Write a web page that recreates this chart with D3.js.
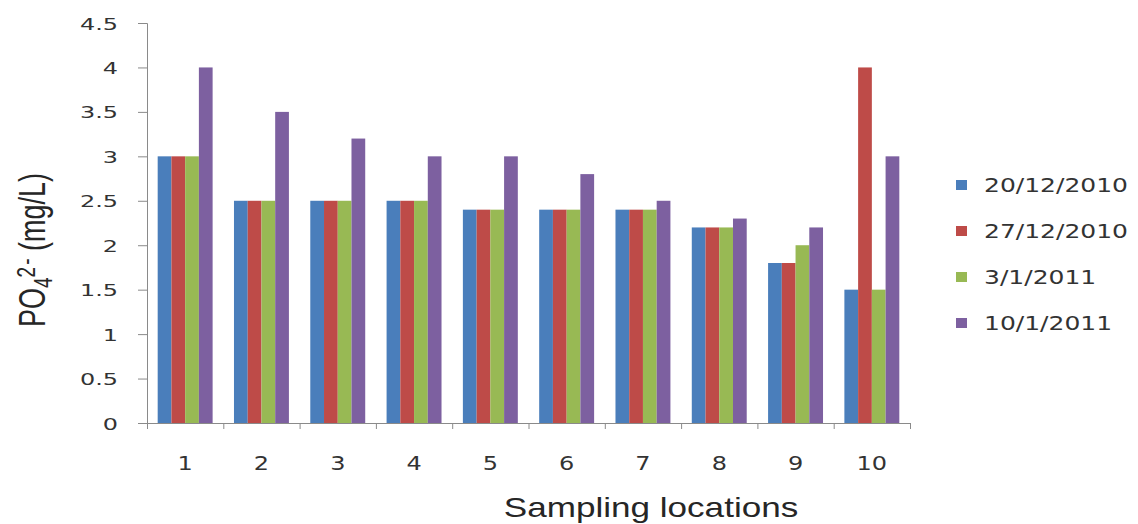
<!DOCTYPE html>
<html>
<head>
<meta charset="utf-8">
<script src="https://cdn.jsdelivr.net/npm/d3@7"></script>
<style>
  html, body { margin: 0; padding: 0; background: #fff; }
  svg { display: block; }
</style>
</head>
<body>
<svg id="chart" width="1138" height="524"></svg>
<script>
const categories = ["1","2","3","4","5","6","7","8","9","10"];
const seriesNames = ["20/12/2010","27/12/2010","3/1/2011","10/1/2011"];
const s20_12_2010 = [3, 2.5, 2.5, 2.5, 2.4, 2.4, 2.4, 2.2, 1.8, 1.5];
const s27_12_2010 = [3, 2.5, 2.5, 2.5, 2.4, 2.4, 2.4, 2.2, 1.8, 4];
const s3_1_2011   = [3, 2.5, 2.5, 2.5, 2.4, 2.4, 2.4, 2.2, 2.0, 1.5];
const s10_1_2011  = [4, 3.5, 3.2, 3, 3, 2.8, 2.5, 2.3, 2.2, 3];
const yTicks = [0, 0.5, 1, 1.5, 2, 2.5, 3, 3.5, 4, 4.5];
const yTickLabels = ["0","0.5","1","1.5","2","2.5","3","3.5","4","4.5"];
const colors = ["#4a7ebb", "#be4b48", "#98b954", "#7d60a0"];

const seriesValues = [s20_12_2010, s27_12_2010, s3_1_2011, s10_1_2011];

const svg = d3.select("#chart");
const mLeft = 147, mRight = 910, mTop = 23, mBottom = 423;

const x0 = d3.scaleBand().domain(categories).range([mLeft, mRight]).paddingInner(0.28).paddingOuter(0.14);
const x1 = d3.scaleBand().domain(seriesNames).range([0, x0.bandwidth()]);
const y = d3.scaleLinear().domain([0, 4.5]).range([mBottom, mTop]);

const axisColor = "#8a8a8a";
const tickFont = "DejaVu Sans, Verdana, sans-serif";
const textColor = "#333333";

// bars
const groups = svg.append("g").selectAll("g")
  .data(categories).join("g")
  .attr("transform", d => `translate(${x0(d)},0)`);
groups.selectAll("rect")
  .data((c, i) => seriesNames.map((s, k) => ({ s, k, v: seriesValues[k][i] })))
  .join("rect")
  .attr("x", d => x1(d.s))
  .attr("width", x1.bandwidth())
  .attr("y", d => y(d.v))
  .attr("height", d => y(0) - y(d.v))
  .attr("fill", d => colors[d.k]);

// y axis
const yAxis = svg.append("g")
  .attr("transform", `translate(${mLeft},0)`)
  .call(d3.axisLeft(y).tickValues(yTicks).tickSize(9).tickFormat((d, i) => yTickLabels[i]));
yAxis.select(".domain").attr("stroke", axisColor).attr("d", `M-9,${mTop+0.5}H0.5V${mBottom+0.5}`);
yAxis.selectAll(".tick line").attr("stroke", axisColor);
yAxis.selectAll(".tick text")
  .attr("x", null).attr("dy", null)
  .attr("transform", "translate(-29,6) scale(1.45,1)")
  .attr("font-family", tickFont).attr("font-size", 16.5)
  .attr("fill", textColor).attr("text-anchor", "end");

// x axis
const step = x0.step();
const xAxis = svg.append("g")
  .attr("transform", `translate(0,${mBottom})`)
  .call(d3.axisBottom(x0).tickSize(0).tickFormat(d => d));
xAxis.select(".domain").attr("stroke", axisColor).attr("d", `M${mLeft},0.5H${mRight}`);
xAxis.selectAll(".tick text")
  .attr("y", null).attr("dy", null)
  .attr("transform", "translate(0,47) scale(1.2,1)")
  .attr("font-family", tickFont).attr("font-size", 20)
  .attr("fill", textColor).attr("text-anchor", "middle");
// boundary tick marks
const boundaries = d3.range(categories.length + 1).map(i => mLeft + i * step);
xAxis.append("g").selectAll("line").data(boundaries).join("line")
  .attr("x1", d => d + 0.5).attr("x2", d => d + 0.5)
  .attr("y1", 0).attr("y2", 6)
  .attr("stroke", axisColor);

// x title
svg.append("text")
  .attr("transform", "translate(651,517) scale(1.3,1)")
  .attr("text-anchor", "middle")
  .attr("font-family", "Liberation Sans, Arial, sans-serif")
  .attr("font-size", 27)
  .attr("fill", "#262626")
  .text("Sampling locations");

// y title
const yt = svg.append("text")
  .attr("transform", "translate(45,327) scale(1.35,1) rotate(-90)")
  .attr("font-family", "Liberation Sans, Arial, sans-serif")
  .attr("font-size", 27)
  .attr("fill", "#262626");
yt.append("tspan").text("PO");
yt.append("tspan").attr("font-size", 19).attr("dy", 5).text("4");
yt.append("tspan").attr("font-size", 19).attr("dy", -12.5).text("2");
yt.append("tspan").attr("font-size", 19).attr("dx", 2).text("-");
yt.append("tspan").attr("dy", 7.5).text(" (mg/L)");

// legend
const legend = svg.append("g").selectAll("g")
  .data(seriesNames).join("g")
  .attr("transform", (d, i) => `translate(956,${180 + i * 46})`);
legend.append("rect").attr("width", 11).attr("height", 10).attr("fill", (d, i) => colors[i]);
legend.append("text")
  .attr("transform", "translate(28,12) scale(1.25,1)")
  .attr("font-family", tickFont).attr("font-size", 20)
  .attr("fill", textColor)
  .text(d => d);
</script>
</body>
</html>
